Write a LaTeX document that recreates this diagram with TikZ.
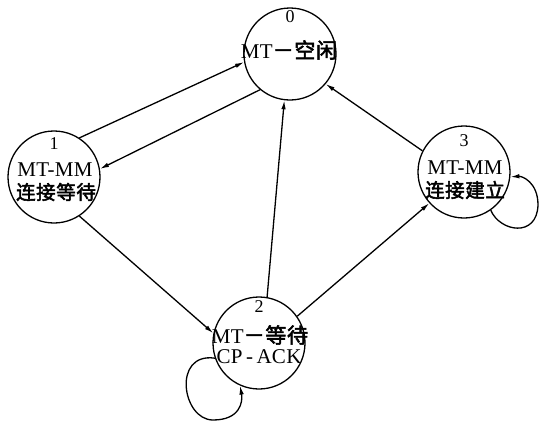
\documentclass[tikz,border=0pt]{standalone}
\usepackage{fontspec}
\setmainfont{Liberation Serif}
\newfontfamily\cjk{Noto Sans CJK SC}[AutoFakeBold=2.5,LetterSpace=3]
\usetikzlibrary{arrows.meta}
\begin{document}
\begin{tikzpicture}[x=1pt,y=-1pt,
  state/.style={draw,circle,line width=1.3pt,minimum size=92pt,inner sep=0pt},
  num/.style={font=\fontsize{18}{18}\selectfont,inner sep=0pt},
  txt/.style={font=\fontsize{21}{21}\selectfont\addfontfeatures{LetterSpace=1.5},inner sep=0pt},
  cjktxt/.style={font=\cjk\bfseries\fontsize{19.5}{19.5}\selectfont,inner sep=0pt},
  edge/.style={line width=1.3pt,-{Latex[length=9pt,width=4.5pt]}}]
\useasboundingbox (0,0) rectangle (539,421);
\node[state] (n0) at (290,54) {};
\node[state] (n1) at (54,177) {};
\node[state] (n2) at (259,343) {};
\node[state] (n3) at (464,172) {};
\node[num] (l0) at (290,17) {0};
\node[txt] (t0) at (289,50) {MT{\cjk\bfseries －空闲}};
\node[num] (l1) at (54,144) {1};
\node[txt] (t1a) at (55,170) {MT-MM};
\node[cjktxt] (t1b) at (56,192) {连接等待};
\node[num] (l2) at (259,307) {2};
\node[txt] (t2a) at (260,335) {MT{\cjk\bfseries －等待}};
\node[txt] (t2b) at (259,357) {CP\,-\,ACK};
\node[num] (l3) at (464,141) {3};
\node[txt] (t3a) at (465,168) {MT-MM};
\node[cjktxt] (t3b) at (465,190) {连接建立};
\draw[edge] (n1.57) -- (n0.190);
\draw[edge] (n0.230) -- (n1.10);
\draw[edge] (n1.303) -- (n2.168);
\draw[edge] (n2.80) -- (n0.263);
\draw[edge] (n3.153) -- (n0.320);
\draw[edge] (n2.35) -- (n3.222);
\draw[edge] (n3.-55) .. controls (500,232) and (537,238) .. (538,205) .. controls (538,182) and (522,176) .. (n3.-6);
\draw[edge] (n2.199) .. controls (172,352) and (182,420) .. (213,420) .. controls (240,420) and (243,402) .. (n2.246);
\end{tikzpicture}
\end{document}
